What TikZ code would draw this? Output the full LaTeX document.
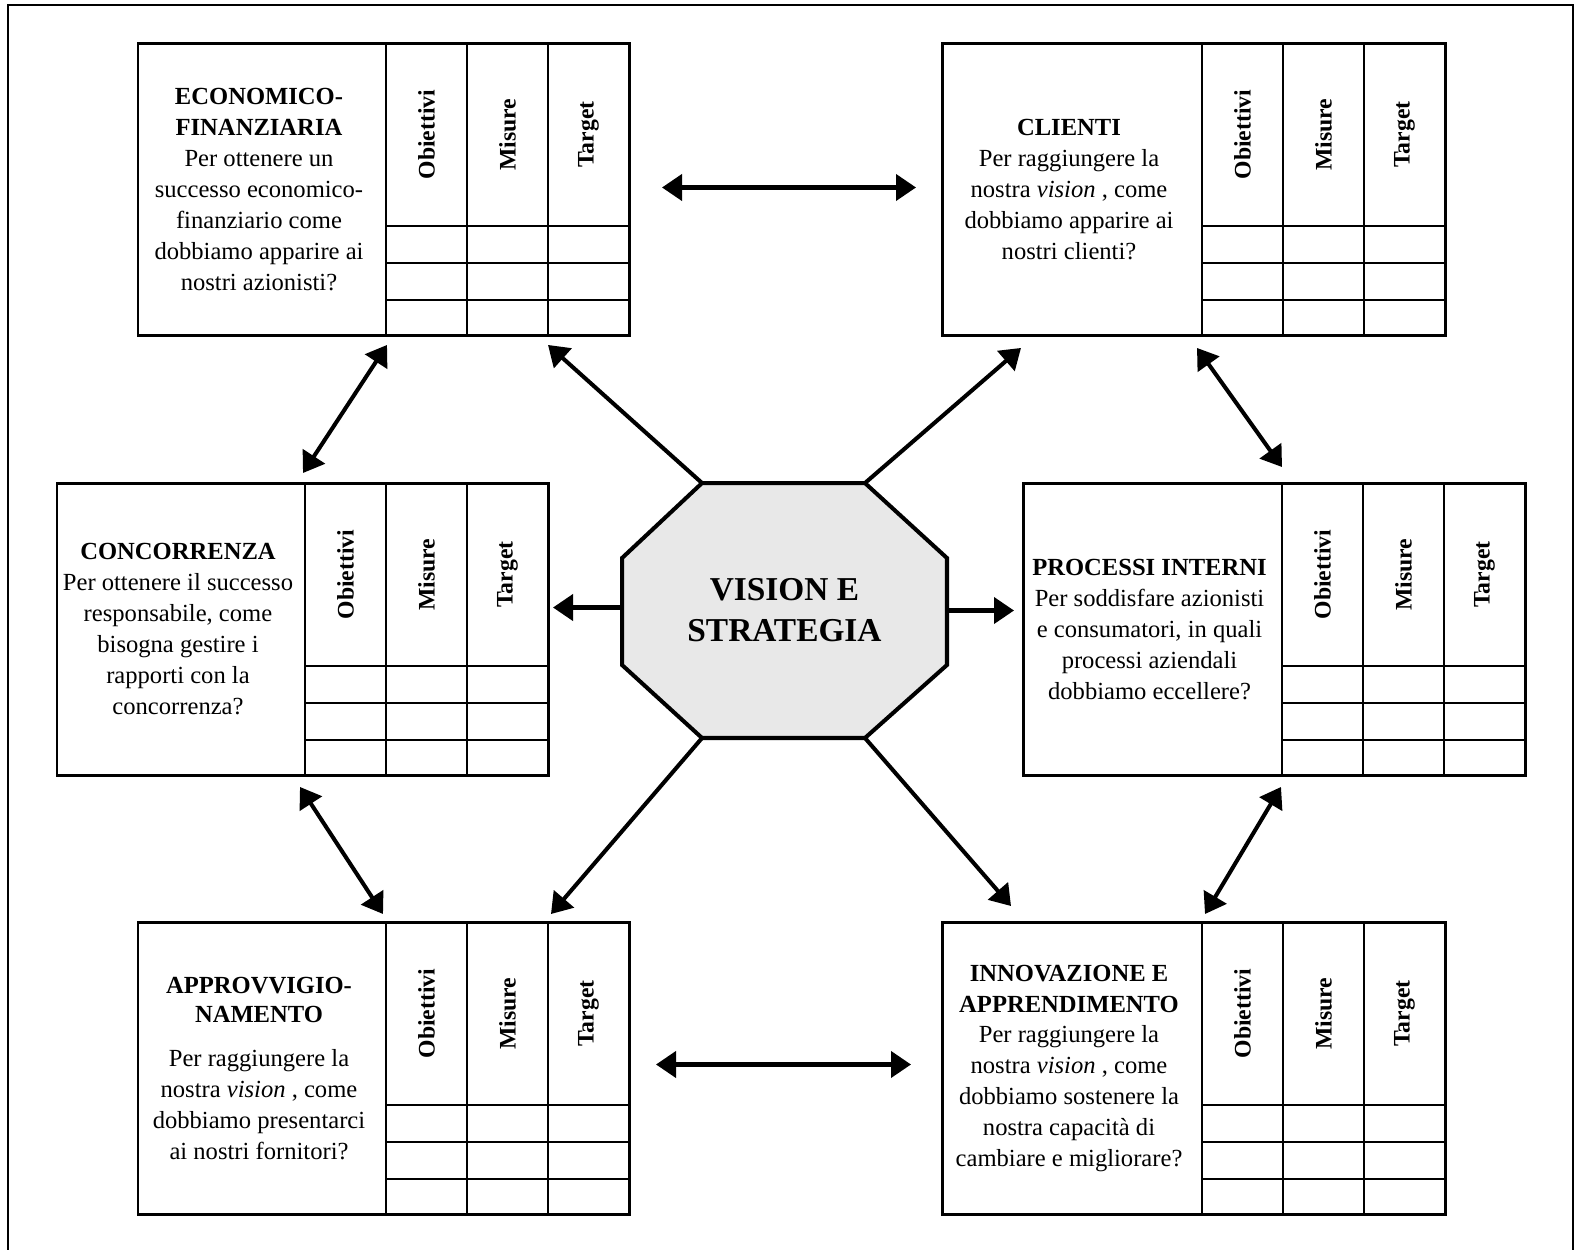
\documentclass[tikz,border=0pt]{standalone}
\usepackage{fontspec}
\setmainfont{Liberation Serif}
\usetikzlibrary{arrows.meta, calc, positioning}

% one perspective: name, north west corner, width of the text part, text
\newcommand{\scheda}[4]{%
	\node[scheda, minimum width={(#3+243)*0.02cm}, anchor=north west] (#1) at (#2) {};
	\node[domanda] at ($(#1.west)+(#3/2-3,0)$) {#4};
	\foreach \k/\lab in {0/Obiettivi, 1/Misure, 2/Target} {
		\draw[griglia] ($(#1.north west)+(#3+81*\k,0)$) -- ($(#1.south west)+(#3+81*\k,0)$);
		\node[intestazione] at ($(#1.north west)+(#3+40.5+81*\k,91.5)$) {\lab};
	}
	\foreach \r in {183, 220, 257}
		\draw[griglia] ($(#1.north west)+(#3,\r)$) -- ($(#1.north east)+(0,\r)$);
}

\begin{document}
\begin{tikzpicture}[x=0.02cm, y=-0.02cm, >={Triangle[length=0.4cm, width=0.52cm]}]
	\tikzstyle{scheda} = [draw, line width=1.7pt, minimum height=5.86cm, inner sep=0pt, outer sep=0pt]
	\tikzstyle{griglia} = [line width=1.3pt]
	\tikzstyle{domanda} = [align=center, inner sep=0pt, font=\fontsize{14}{17.64}\selectfont]
	\tikzstyle{intestazione} = [rotate=90, inner sep=0pt, font=\fontsize{13.5}{16}\selectfont\bfseries]
	\tikzstyle{ottagono} = [draw, line width=2.3pt, fill={rgb,255:red,232;green,232;blue,232}, line join=miter]
	\tikzstyle{pijl} = [line width=2.3pt]

	\useasboundingbox (0,0) rectangle (1578,1249);
	\draw[line width=1.1pt] (8,1260) -- (8,5) -- (1573,5) -- (1573,1260);

	% the six perspectives
	\scheda{eco}{138,43}{248}{\textbf{ECONOMICO-}\\\textbf{FINANZIARIA}\\Per ottenere un\\successo economico-\\finanziario come\\dobbiamo apparire ai\\nostri azionisti?}
	\scheda{cli}{942,43}{260}{\textbf{CLIENTI}\\Per raggiungere la\\nostra \textit{vision} , come\\dobbiamo apparire ai\\nostri clienti?}
	\scheda{con}{57,483}{248}{\textbf{CONCORRENZA}\\Per ottenere il successo\\responsabile, come\\bisogna gestire i\\rapporti con la\\concorrenza?}
	\scheda{pro}{1023,483}{259}{\textbf{PROCESSI INTERNI}\\Per soddisfare azionisti\\e consumatori, in quali\\processi aziendali\\dobbiamo eccellere?}
	\scheda{app}{138,922}{248}{\textbf{APPROVVIGIO-}\\[-1pt]\textbf{NAMENTO}\\[7pt]Per raggiungere la\\nostra \textit{vision} , come\\dobbiamo presentarci\\ai nostri fornitori?}
	\scheda{inn}{942,922}{260}{\textbf{INNOVAZIONE E}\\\textbf{APPRENDIMENTO}\\Per raggiungere la\\nostra \textit{vision} , come\\dobbiamo sostenere la\\nostra capacità di\\cambiare e migliorare?}

	% vision in the middle
	\node[minimum width=6.5cm, minimum height=5.1cm, inner sep=0pt, outer sep=0pt] (vision) at (784.5,610.5) {};
	\draw[ottagono] ($(vision.north west)+(80,0)$) -- ($(vision.north east)+(-82,0)$)
		-- ($(vision.north east)+(0,75)$) -- ($(vision.south east)+(0,-73)$)
		-- ($(vision.south east)+(-82,0)$) -- ($(vision.south west)+(80,0)$)
		-- ($(vision.south west)+(0,-73)$) -- ($(vision.north west)+(0,75)$) -- cycle;
	\node[align=center, font=\fontsize{19}{23.3}\selectfont\bfseries] at (vision.center) {VISION E\\STRATEGIA};

	% connections
	\draw[<->, pijl] ($(eco.east)+(33,-2)$) -- ($(cli.west)+(-26,-2)$);
	\draw[<->, pijl] ($(app.east)+(27,-4)$) -- ($(inn.west)+(-31,-4)$);
	\draw[<->, pijl] ($(eco.south west)+(249,9)$) -- ($(con.north west)+(246,-10)$);
	\draw[<->, pijl] ($(con.south west)+(243,11)$) -- ($(app.north west)+(245,-8)$);
	\draw[<->, pijl] ($(cli.south west)+(255,12)$) -- ($(pro.north west)+(259,-16)$);
	\draw[<->, pijl] ($(pro.south west)+(258,11)$) -- ($(inn.north west)+(263,-8)$);

	\draw[->, pijl] ($(vision.north west)+(80,0)$) -- ($(eco.south east)+(-81,9)$);
	\draw[->, pijl] ($(vision.north east)+(-82,0)$) -- ($(cli.south west)+(79,12)$);
	\draw[->, pijl] ($(vision.south west)+(80,0)$) -- ($(app.north east)+(-78,-8)$);
	\draw[->, pijl] ($(vision.south east)+(-82,0)$) -- ($(inn.north west)+(69,-16)$);
	\draw[->, pijl] ($(vision.west)+(0,-3)$) -- ($(vision.west -| con.east)+(5,-3)$);
	\draw[->, pijl] (vision.east) -- ($(vision.east -| pro.west)+(-9,0)$);
\end{tikzpicture}
\end{document}
